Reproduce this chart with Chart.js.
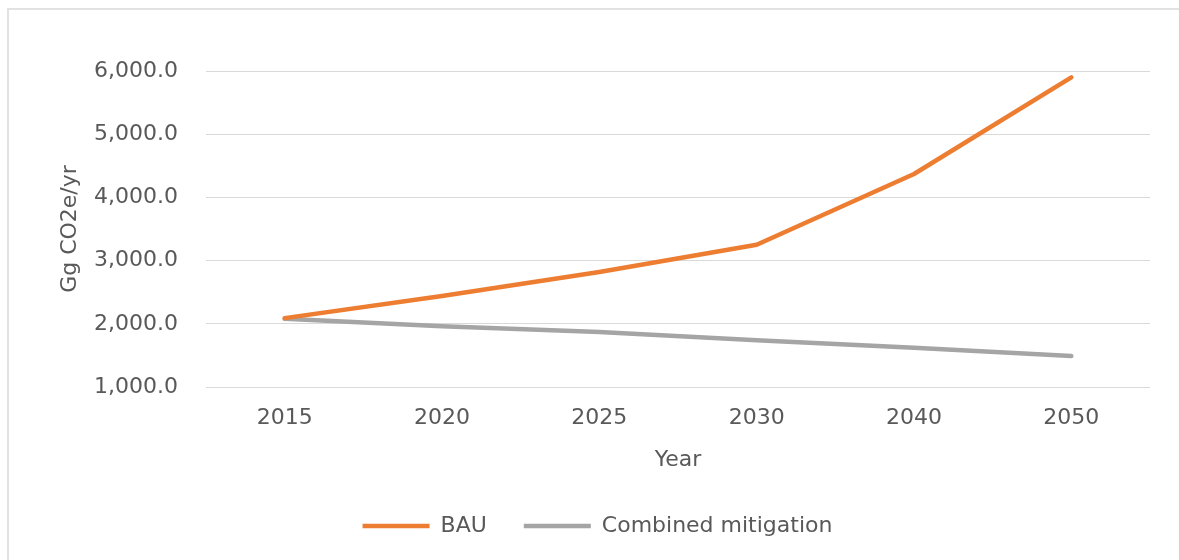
<!DOCTYPE html>
<html>
<head>
<meta charset="utf-8">
<script src="https://cdn.jsdelivr.net/npm/chart.js@4/dist/chart.umd.min.js"></script>
<style>
  html, body { margin: 0; padding: 0; background: #ffffff; }
  #wrap { position: relative; width: 1179px; height: 560px; overflow: hidden; }
  #frame {
    position: absolute; left: 7px; top: 8px; width: 1200px; height: 600px;
    border-top: 2px solid #e2e2e2; border-left: 2px solid #e2e2e2;
  }
  canvas { position: absolute; left: 0; top: 0; }
</style>
</head>
<body>
<div id="wrap">
  <div id="frame"></div>
  <canvas id="chart" width="1179" height="560"></canvas>
</div>
<script>
// Emission scenarios, Gg CO2e per year
const years = ['2015', '2020', '2025', '2030', '2040', '2050'];
const bau = [2090, 2440, 2820, 3250, 4370, 5900];
const combinedMitigation = [2080, 1960, 1870, 1740, 1620, 1490];
const seriesNames = ['BAU', 'Combined mitigation'];
const seriesColors = ['#ED7D31', '#A5A5A5'];
const yTitle = 'Gg CO2e/yr';
const xTitle = 'Year';

const textColor = '#595959';
const fontFamily = '"DejaVu Sans", sans-serif';
const fontSize = 22;

const fmt = new Intl.NumberFormat('en-US', { minimumFractionDigits: 1, maximumFractionDigits: 1 });

function lineDataset(label, data, color) {
  return {
    label: label,
    data: data,
    borderColor: color,
    backgroundColor: color,
    borderWidth: 4.5,
    borderCapStyle: 'round',
    borderJoinStyle: 'round',
    pointRadius: 0,
    pointHoverRadius: 0,
    pointStyle: 'line',
    tension: 0,
    fill: false
  };
}

new Chart(document.getElementById('chart'), {
  type: 'line',
  data: {
    labels: years,
    datasets: [
      lineDataset(seriesNames[0], bau, seriesColors[0]),
      lineDataset(seriesNames[1], combinedMitigation, seriesColors[1])
    ]
  },
  options: {
    responsive: false,
    animation: false,
    events: [],
    layout: { padding: { left: 45, right: 29, top: 71, bottom: 13 } },
    scales: {
      x: {
        offset: true,
        grid: { display: false, drawTicks: false },
        border: { display: false },
        ticks: { color: textColor, font: { family: fontFamily, size: fontSize }, padding: 18 },
        title: {
          display: true, text: xTitle, color: textColor,
          font: { family: fontFamily, size: fontSize },
          padding: { top: 0, bottom: 5 }
        },
        afterFit: (scale) => { scale.height = 91; }
      },
      y: {
        min: 1000,
        max: 6000,
        ticks: {
          stepSize: 1000,
          color: textColor,
          font: { family: fontFamily, size: fontSize },
          padding: 28,
          callback: (v) => fmt.format(v)
        },
        grid: { color: '#d9d9d9', lineWidth: 1, drawTicks: false },
        border: { display: false },
        title: {
          display: true, text: yTitle, color: textColor,
          font: { family: fontFamily, size: fontSize },
          padding: { top: 12, bottom: 0 }
        },
        afterFit: (scale) => { scale.width = 161; }
      }
    },
    plugins: {
      tooltip: { enabled: false },
      legend: {
        position: 'bottom',
        labels: {
          usePointStyle: true,
          pointStyleWidth: 67,
          padding: 37,
          color: textColor,
          font: { family: fontFamily, size: fontSize }
        }
      }
    }
  }
});
</script>
</body>
</html>
